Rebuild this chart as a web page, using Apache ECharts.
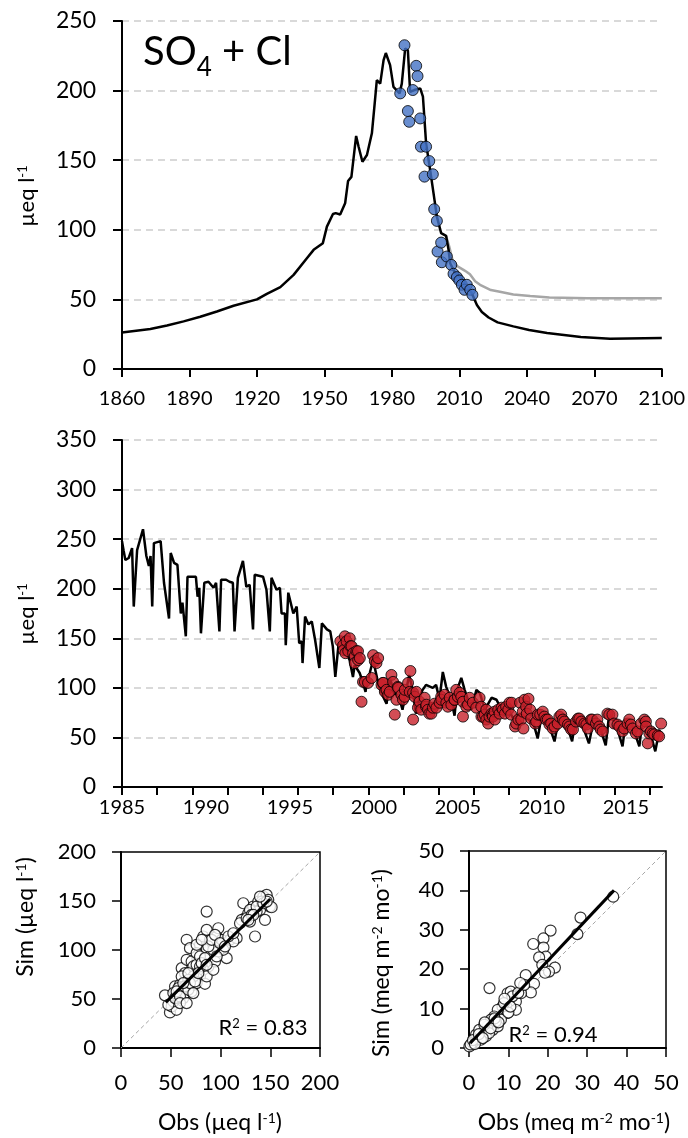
<!DOCTYPE html>
<html>
<head>
<meta charset="utf-8">
<script src="https://cdn.jsdelivr.net/npm/echarts@6/dist/echarts.min.js"></script>
<style>
  html, body { margin: 0; padding: 0; background: #fff; }
  #chart { width: 688px; height: 1138px; }
</style>
</head>
<body>
<div id="chart"></div>
<script>
// ---- top panel: long-term simulation 1860-2100 ----
const topSimYears = [1860, 1872.6, 1880, 1887.4, 1894.8, 1902.2, 1909.6, 1920, 1924.4, 1930.4, 1936.3, 1942.2, 1945.2, 1949.3, 1951.1, 1953.8, 1955, 1957, 1957.8, 1959.2, 1960.5, 1962, 1964.1, 1965.2, 1966.9, 1968.9, 1971.1, 1972.3, 1973.3, 1974.8, 1976.3, 1977.3, 1979.2, 1980.7, 1983.4, 1984.4, 1985.9, 1987.1, 1988.1, 1989.9, 1992.6, 1993.8, 1994.4, 1995.2, 1997, 1998.5, 2000, 2001.9, 2004.1, 2005.2, 2005.9, 2008.1, 2010.5, 2011.8, 2013.5, 2015.5, 2017.8, 2020, 2023, 2027, 2034, 2041, 2049, 2064, 2077, 2100];
const topSimVals = [26.3, 28.7, 31.3, 34.2, 37.5, 41.3, 45.4, 50, 54, 58.8, 67.6, 79.6, 85.6, 90.4, 102.3, 111.4, 112, 111, 112, 119, 135, 138, 167.4, 159.7, 148.9, 153.7, 169.3, 190, 207.5, 205, 221.9, 227, 218.3, 202.7, 198, 205, 230.3, 229, 199.1, 200.4, 201.6, 195.6, 181.3, 162.1, 143, 126.3, 109.5, 97.6, 95.6, 85.6, 76, 68.9, 66, 62.8, 59, 54.5, 46, 41, 37, 33.5, 30.6, 28, 25.8, 23, 21.8, 22.2];
const topAltYears = [2004, 2005.5, 2007, 2009, 2010.5, 2012, 2013, 2014.7, 2017, 2019.2, 2024, 2028, 2034, 2041.5, 2050, 2067, 2100];
const topAltVals = [96, 88, 78, 74, 72.5, 71, 70, 68, 63, 60.5, 56.7, 55.5, 53.5, 52.5, 51.4, 50.9, 50.9];
const topObsYears = [1983.7, 1985.6, 1987.1, 1987.7, 1989.3, 1990.8, 1991.4, 1992.6, 1992.9, 1995.2, 1994.5, 1996.6, 1998.2, 1998.8, 2000, 2000.3, 2001.9, 2002.2, 2004.4, 2006.4, 2007.4, 2008.9, 2010, 2011.1, 2012.3, 2013.3, 2014.8, 2015.8];
const topObsVals = [198, 232.6, 185.3, 177.6, 200.4, 217.8, 210.4, 180, 159.7, 159.7, 138.2, 149.4, 139.9, 114.8, 106.4, 84.4, 90.8, 76.7, 80.8, 74.8, 68.4, 66, 63.6, 60.5, 56.9, 60.5, 56.9, 53.3];
const topTickYears = [1860, 1890, 1920, 1950, 1980, 2010, 2040, 2070, 2100];

// ---- middle panel: 1985-2017 ----
const midSimYears = [1985.0, 1985.1, 1985.2, 1985.4, 1985.6, 1985.7, 1985.9, 1986.25, 1986.45, 1986.6, 1986.7, 1986.8, 1986.9, 1987.3, 1987.5, 1987.6, 1987.8, 1987.9, 1988.1, 1988.3, 1988.5, 1988.6, 1988.8, 1988.9, 1989.4, 1989.5, 1989.6, 1989.7, 1989.9, 1990.15, 1990.45, 1990.6, 1990.8, 1990.9, 1991.2, 1991.4, 1991.6, 1991.7, 1991.9, 1992.2, 1992.4, 1992.6, 1992.8, 1992.9, 1993.4, 1993.6, 1993.8, 1993.9, 1994.2, 1994.4, 1994.5, 1994.7, 1994.75, 1994.9, 1995.2, 1995.4, 1995.55, 1995.7, 1995.75, 1995.9, 1996.1, 1996.3, 1996.5, 1996.6, 1996.75, 1996.9, 1997.2, 1997.4, 1997.55, 1997.7, 1997.9, 1998.1, 1998.3, 1998.55, 1998.75, 1998.85, 1999.15, 1999.35, 1999.5, 1999.55, 1999.75, 1999.95, 2000.3, 2000.55, 2000.75, 2000.95, 2001.2, 2001.5, 2001.7, 2001.95, 2002.1, 2002.3, 2002.5, 2002.7, 2002.9, 2003.1, 2003.5, 2003.7, 2003.9, 2004.1, 2004.3, 2004.6, 2004.8, 2004.95, 2005.2, 2005.4, 2005.8, 2006.1, 2006.3, 2006.6, 2007.0, 2007.3, 2007.7, 2008.0, 2008.3, 2008.7, 2009.2, 2009.5, 2009.75, 2010.0, 2010.35, 2010.75, 2011.05, 2011.45, 2011.8, 2012.0, 2012.4, 2012.8, 2013.1, 2013.4, 2013.8, 2014.0, 2014.4, 2014.8, 2015.0, 2015.4, 2015.8, 2016.0, 2016.4, 2016.75, 2017.0];
const midSimVals = [248, 238, 229, 231, 241, 182, 239, 260, 233, 223, 233, 182, 246, 248, 206, 206, 170, 236, 226, 224, 175, 186, 152, 212, 212, 192, 201, 155, 206, 207, 201, 206, 157, 209, 209, 207, 206, 157, 211, 228, 202, 204, 159, 214, 212, 199, 157, 211, 199, 201, 175, 175, 143, 196, 175, 182, 145, 147, 125, 172, 164, 167, 148, 148, 120, 165, 159, 157, 142, 111, 145, 142, 138, 128, 111, 123, 115, 105, 96, 103, 115, 128, 101, 91, 84, 110, 95, 90, 78, 100, 113, 98, 74, 90, 98, 103, 100, 103, 88, 116, 101, 88, 72, 98, 110, 98, 78, 98, 95, 78, 90, 88, 74, 78, 69, 74, 68, 64, 49, 74, 66, 46, 73, 64, 46, 69, 63, 44, 69, 63, 42, 73, 64, 41, 68, 61, 41, 68, 58, 36, 58];
const midObsYears = [1998.0, 1998.17, 1998.2, 1998.27, 1998.3, 1998.37, 1998.47, 1998.56, 1998.6, 1998.67, 1998.76, 1998.86, 1998.86, 1998.96, 1999.05, 1999.06, 1999.16, 1999.26, 1999.35, 1999.46, 1999.65, 1999.86, 1999.95, 2000.05, 2000.15, 2000.25, 2000.45, 2000.54, 2000.55, 2000.65, 2000.75, 2000.85, 2000.94, 2001.04, 2001.14, 2001.24, 2001.34, 2001.43, 2001.44, 2001.64, 2001.73, 2001.83, 2001.84, 2002.03, 2002.13, 2002.17, 2002.33, 2002.33, 2002.43, 2002.53, 2002.62, 2002.72, 2002.82, 2003.02, 2003.1, 2003.12, 2003.22, 2003.3, 2003.42, 2003.51, 2003.6, 2003.72, 2003.91, 2004.0, 2004.01, 2004.21, 2004.31, 2004.4, 2004.51, 2004.61, 2004.8, 2004.8, 2004.9, 2005.0, 2005.1, 2005.2, 2005.3, 2005.3, 2005.5, 2005.6, 2005.7, 2005.89, 2006.09, 2006.29, 2006.39, 2006.4, 2006.49, 2006.59, 2006.69, 2006.69, 2006.8, 2006.88, 2007.0, 2007.08, 2007.08, 2007.18, 2007.2, 2007.4, 2007.48, 2007.6, 2007.68, 2007.8, 2007.87, 2008.0, 2008.07, 2008.17, 2008.2, 2008.4, 2008.47, 2008.6, 2008.7, 2008.77, 2008.86, 2008.9, 2008.96, 2009.06, 2009.1, 2009.2, 2009.3, 2009.36, 2009.6, 2009.66, 2009.76, 2009.9, 2010.05, 2010.15, 2010.25, 2010.35, 2010.45, 2010.55, 2010.65, 2010.75, 2010.94, 2011.04, 2011.15, 2011.25, 2011.34, 2011.55, 2011.64, 2011.74, 2011.85, 2012.03, 2012.15, 2012.23, 2012.35, 2012.53, 2012.65, 2012.73, 2012.92, 2013.0, 2013.22, 2013.3, 2013.42, 2013.5, 2013.62, 2013.9, 2014.01, 2014.2, 2014.3, 2014.5, 2014.61, 2014.8, 2014.9, 2015.1, 2015.2, 2015.3, 2015.4, 2015.6, 2015.7, 2015.9, 2016.1, 2016.19, 2016.2, 2016.3, 2016.4, 2016.49, 2016.6, 2016.69, 2016.9, 2016.98, 2017.1];
const midObsVals = [147, 143, 138, 152, 135, 147, 137, 150, 142, 142, 135, 132, 125, 137, 137, 128, 130, 86, 106, 106, 105, 110, 133, 127, 125, 130, 103, 105, 105, 96, 98, 93, 96, 113, 106, 73, 88, 101, 100, 93, 88, 91, 98, 105, 96, 117, 68, 95, 91, 96, 80, 86, 78, 90, 81, 83, 78, 74, 74, 80, 84, 80, 85, 91, 88, 93, 85, 81, 90, 83, 88, 88, 98, 91, 95, 91, 86, 71, 81, 83, 90, 85, 80, 90, 81, 71, 71, 73, 68, 78, 64, 71, 74, 73, 71, 76, 68, 78, 74, 80, 78, 74, 81, 78, 85, 73, 85, 61, 64, 68, 85, 68, 76, 59, 88, 81, 74, 89, 78, 69, 64, 66, 73, 73, 76, 71, 68, 68, 63, 64, 59, 61, 64, 71, 73, 68, 66, 63, 61, 58, 58, 66, 69, 69, 66, 64, 63, 59, 68, 68, 64, 68, 61, 58, 56, 74, 73, 73, 64, 63, 61, 56, 59, 64, 68, 63, 59, 54, 56, 64, 68, 66, 61, 44, 54, 56, 54, 53, 52, 51, 64];
const midLabelYears = [1985, 1990, 1995, 2000, 2005, 2010, 2015];

// ---- bottom left: concentrations, obs vs sim ----
const concObs = [44.2, 49.2, 50.9, 55.9, 52.6, 57.6, 62.6, 61, 54.3, 59.3, 64.3, 66, 71, 72.7, 61, 64.3, 66, 71, 66, 69.3, 72.7, 76, 79.4, 76, 84.4, 79.4, 82.7, 86.1, 86.1, 89.4, 87.8, 92.8, 94.5, 96.2, 97.8, 97.8, 101.2, 106.2, 102.8, 109.5, 116.2, 122.9, 124.6, 127.9, 129.6, 132.9, 134.7, 138, 139.7, 143, 144.7, 146.4, 149.7, 148, 151.4, 61, 72.7, 82.7, 86.1, 76, 79.4, 89.4, 86.1, 92.8, 112.9, 121.3, 136.3, 52.6, 57.6, 67.7, 79.4, 92.8, 129.6, 141.4, 47.6, 54.3, 55.9, 59.3, 64.3, 67.7, 69.3, 72.7, 74.4, 77.7, 81.1, 84.4, 87.8, 91.1, 94.5, 99.5, 104.5, 107.9, 112.9, 119.6, 126.3, 131.3, 136.3, 143, 146.4, 139.7, 133, 128, 67.7, 62.6, 76, 81.1, 96.2, 86.1, 59.3, 66];
const concSim = [53.7, 36.3, 42.4, 39, 47.5, 50.9, 50.9, 59.4, 62.8, 64.5, 56, 62.8, 57.7, 64.5, 81.5, 76.4, 90, 88.3, 110.4, 101.9, 83.2, 84.9, 73, 66.2, 65.5, 105.3, 113.8, 139.2, 100.2, 93.4, 83.2, 105.3, 88.3, 113.8, 122.2, 98.5, 110.4, 91.7, 100.2, 110.4, 112.1, 147.7, 132.4, 137.5, 129, 144.3, 113.8, 149.4, 140.9, 154.5, 130.7, 156.2, 144.3, 151.1, 143.6, 73, 73, 79.8, 73, 96.8, 93.4, 110.4, 120.5, 79.8, 108.7, 130.7, 139.2, 56, 61.1, 69.6, 83.2, 100.2, 140.9, 149.4, 44.1, 50.9, 57.7, 52.6, 62.8, 59.4, 66.2, 56, 67.9, 76.4, 86.6, 91.7, 103.6, 110.4, 115.4, 107, 103.6, 113.8, 117.1, 127.3, 132.4, 135.8, 144.3, 147.7, 149.4, 154.5, 135.8, 130.7, 76.4, 66.2, 105.3, 110.4, 93.4, 84.9, 45.8, 45.8];
const concFit = [[45, 46.5], [150, 152]];
const concOneToOne = [[0, 0], [200, 200]];

// ---- bottom right: fluxes, obs vs sim ----
const fluxObs = [36.6, 28.3, 27.5, 20.7, 18.9, 18.9, 16.3, 19.5, 17.8, 18.6, 21.8, 20.3, 19.3, 14.4, 16.5, 15.7, 5.2, 9.8, 10.6, 11.9, 11.9, 9.8, 8.5, 7.3, 8.1, 6.4, 5.6, 4.7, 6, 3.9, 3, 2.2, 1.3, 0.5, 0.1, 1.8, 2.6, 4.3, 5.1, 7.3, 8.9, 11, 13.2, 14, 0.9, 3, 6.8, 3.9, 0.4, 1, 1.5, 2.5, 3.5, 4, 5.5, 6.5, 7.5, 9, 10, 12.5, 13, 10.5];
const fluxSim = [38.4, 33.1, 28.9, 29.8, 27.8, 25.5, 26.4, 23.2, 23, 21.1, 20.4, 19.4, 19.1, 18.5, 16.3, 14.1, 15.2, 13.9, 14.3, 11.8, 9.7, 8.9, 10.5, 9.7, 7.2, 8, 7.2, 5.5, 4.6, 4.2, 3.4, 2.5, 1.7, 0.8, 0.4, 3.4, 4.6, 3, 3.8, 5.5, 11.4, 13.1, 13.9, 16, 1.3, 2.1, 6.7, 5.9, 0.9, 2, 1, 3.5, 2.5, 6.5, 5, 7.5, 6.5, 12.5, 9, 14, 16.5, 10.5];
const fluxFit = [[0.3, 1.2], [36.8, 40]];
const fluxOneToOne = [[0, 0], [50, 50]];

const FONT = 'Lato';
const INK = '#000';

function pairs(xs, ys) {
  return xs.map((x, i) => [x, ys[i]]);
}

const chart = echarts.init(document.getElementById('chart'));

const axisLine = { lineStyle: { color: INK, width: 2 } };
const axisTick = { inside: false, length: 8, lineStyle: { color: INK, width: 2 } };
const dashed = { show: true, lineStyle: { color: '#d9d9d9', width: 2, type: [7, 5] } };

function titleText(x, y, text, size, rotate) {
  return {
    type: 'text',
    x: x,
    y: y,
    rotation: rotate ? Math.PI / 2 : 0,
    style: {
      text: text,
      fill: INK,
      fontFamily: FONT,
      fontSize: size,
      align: 'center',
      verticalAlign: 'middle',
      rich: {
        sup: { fontSize: Math.round(size * 0.6), fontFamily: FONT, fill: INK, verticalAlign: 'top' }
      }
    }
  };
}

let option = {
  animation: false,
  backgroundColor: '#fff',
  textStyle: { fontFamily: FONT, color: INK },
  grid: [
    { left: 122, top: 21, width: 540, height: 348 },
    { left: 122, top: 440, width: 540, height: 347 },
    { left: 122, top: 440, width: 528, height: 347 },   // tick marks of the middle date axis
    { left: 121, top: 852, width: 199, height: 196, show: true, borderColor: INK, borderWidth: 1.5 },
    { left: 469, top: 851, width: 197, height: 197, show: true, borderColor: INK, borderWidth: 1.5 }
  ],
  xAxis: [
    {
      gridIndex: 0, type: 'value', min: 1860, max: 2100, interval: 30,
      axisLine: axisLine, axisTick: axisTick, splitLine: { show: false },
      axisLabel: {
        fontSize: 20, margin: 20, color: INK, fontFamily: FONT,
        formatter: (v) => (topTickYears.indexOf(v) >= 0 ? String(v) : '')
      }
    },
    {
      gridIndex: 1, type: 'value', min: 1985, max: 2017.15, interval: 5,
      axisLine: axisLine, axisTick: { show: false }, splitLine: { show: false },
      axisLabel: {
        fontSize: 20, margin: 11, color: INK, fontFamily: FONT, showMaxLabel: false,
        formatter: (v) => (midLabelYears.indexOf(Math.round(v * 100) / 100) >= 0 ? String(v) : '')
      }
    },
    {
      gridIndex: 2, type: 'value', min: 0, max: 15, interval: 1,
      axisLine: { show: false }, axisTick: axisTick, axisLabel: { show: false }, splitLine: { show: false }
    },
    {
      gridIndex: 3, type: 'value', min: 0, max: 200, interval: 50,
      axisLine: axisLine, axisTick: { length: 9, lineStyle: { color: INK, width: 1.5 } }, splitLine: { show: false },
      axisLabel: { fontSize: 22, margin: 24, color: INK, fontFamily: FONT }
    },
    {
      gridIndex: 4, type: 'value', min: 0, max: 50, interval: 10,
      axisLine: axisLine, axisTick: { length: 9, lineStyle: { color: INK, width: 1.5 } }, splitLine: { show: false },
      axisLabel: { fontSize: 22, margin: 24, color: INK, fontFamily: FONT }
    }
  ],
  yAxis: [
    {
      gridIndex: 0, type: 'value', min: 0, max: 250, interval: 50,
      axisLine: { show: true, lineStyle: { color: INK, width: 2 } }, axisTick: { show: true, length: 9, lineStyle: { color: INK, width: 2 } },
      splitLine: dashed,
      axisLabel: { fontSize: 23, margin: 26, color: INK, fontFamily: FONT }
    },
    {
      gridIndex: 1, type: 'value', min: 0, max: 350, interval: 50,
      axisLine: { show: true, lineStyle: { color: INK, width: 2 } }, axisTick: { show: true, length: 9, lineStyle: { color: INK, width: 2 } },
      splitLine: dashed,
      axisLabel: { fontSize: 23, margin: 26, color: INK, fontFamily: FONT }
    },
    {
      gridIndex: 2, type: 'value', min: 0, max: 1, show: false
    },
    {
      gridIndex: 3, type: 'value', min: 0, max: 200, interval: 50,
      axisLine: { show: true, lineStyle: { color: INK, width: 2 } }, axisTick: { show: true, length: 9, lineStyle: { color: INK, width: 1.5 } },
      splitLine: { show: false },
      axisLabel: { fontSize: 22, margin: 25, color: INK, fontFamily: FONT }
    },
    {
      gridIndex: 4, type: 'value', min: 0, max: 50, interval: 10,
      axisLine: { show: true, lineStyle: { color: INK, width: 2 } }, axisTick: { show: true, length: 9, lineStyle: { color: INK, width: 1.5 } },
      splitLine: { show: false },
      axisLabel: { fontSize: 22, margin: 25, color: INK, fontFamily: FONT }
    }
  ],
  graphic: [
    {
      type: 'text', x: 143, y: 52,
      style: {
        text: 'SO{sub|4} + Cl', fill: INK, fontFamily: FONT, fontSize: 40, verticalAlign: 'middle',
        rich: { sub: { fontSize: 26, fontFamily: FONT, fill: INK, verticalAlign: 'bottom', lineHeight: 58 } }
      }
    },
    titleText(27, 196, 'µeq l{sup|-1}', 22, true),
    titleText(27, 614, 'µeq l{sup|-1}', 22, true),
    titleText(26, 917, 'Sim (µeq l{sup|-1})', 23, true),
    titleText(220, 1123, 'Obs (µeq l{sup|-1})', 23, false),
    titleText(382, 963, 'Sim (meq m{sup|-2} mo{sup|-1})', 23, true),
    titleText(574, 1123, 'Obs (meq m{sup|-2} mo{sup|-1})', 23, false),
    titleText(263, 1028, 'R{sup|2} = 0.83', 22, false),
    titleText(553, 1035, 'R{sup|2} = 0.94', 22, false)
  ],
  series: [
    {
      type: 'line', xAxisIndex: 0, yAxisIndex: 0, data: pairs(topAltYears, topAltVals),
      showSymbol: false, symbol: 'none', lineStyle: { color: '#a6a6a6', width: 2.5 }, z: 2
    },
    {
      type: 'line', xAxisIndex: 0, yAxisIndex: 0, data: pairs(topSimYears, topSimVals),
      showSymbol: false, symbol: 'none', lineStyle: { color: INK, width: 2.5 }, z: 3
    },
    {
      type: 'scatter', xAxisIndex: 0, yAxisIndex: 0, data: pairs(topObsYears, topObsVals),
      symbolSize: 11, itemStyle: { color: '#4472c4', borderColor: INK, borderWidth: 1 }, z: 4
    },
    {
      type: 'line', xAxisIndex: 1, yAxisIndex: 1, data: pairs(midSimYears, midSimVals),
      showSymbol: false, symbol: 'none', lineStyle: { color: INK, width: 2.5 }, z: 3
    },
    {
      type: 'scatter', xAxisIndex: 1, yAxisIndex: 1, data: pairs(midObsYears, midObsVals),
      symbolSize: 11, itemStyle: { color: '#c8202a', borderColor: INK, borderWidth: 1 }, z: 4
    },
    {
      type: 'line', xAxisIndex: 3, yAxisIndex: 3, data: concOneToOne,
      symbol: 'none', lineStyle: { color: '#a6a6a6', width: 1, type: [4, 3] }, z: 2
    },
    {
      type: 'scatter', xAxisIndex: 3, yAxisIndex: 3, data: pairs(concObs, concSim),
      symbolSize: 11, itemStyle: { color: '#fff', borderColor: INK, borderWidth: 1.2 }, z: 3
    },
    {
      type: 'line', xAxisIndex: 3, yAxisIndex: 3, data: concFit,
      symbol: 'none', lineStyle: { color: INK, width: 3 }, z: 4
    },
    {
      type: 'line', xAxisIndex: 4, yAxisIndex: 4, data: fluxOneToOne,
      symbol: 'none', lineStyle: { color: '#a6a6a6', width: 1, type: [4, 3] }, z: 2
    },
    {
      type: 'scatter', xAxisIndex: 4, yAxisIndex: 4, data: pairs(fluxObs, fluxSim),
      symbolSize: 11, itemStyle: { color: '#fff', borderColor: INK, borderWidth: 1.2 }, z: 3
    },
    {
      type: 'line', xAxisIndex: 4, yAxisIndex: 4, data: fluxFit,
      symbol: 'none', lineStyle: { color: INK, width: 3 }, z: 4
    }
  ]
};

chart.setOption(option);
</script>
</body>
</html>
